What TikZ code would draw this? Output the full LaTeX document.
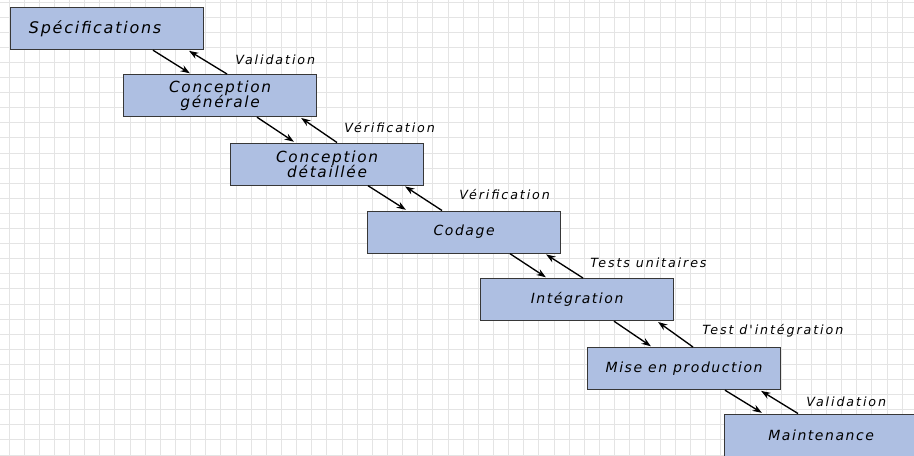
\documentclass[tikz,border=0pt]{standalone}
\usepackage{fontspec}
\newfontfamily\handfont{DejaVu Sans}[LetterSpace=11]
\newfontfamily\notefont{DejaVu Sans}[LetterSpace=15]
\usetikzlibrary{arrows.meta,calc}
\definecolor{boxblue}{RGB}{174,191,226}
\definecolor{boxline}{RGB}{55,55,55}
\definecolor{gridgray}{RGB}{228,228,228}
\tikzset{
  phase/.style={draw=boxline,fill=boxblue,line width=0.9pt,minimum width=144.75pt,minimum height=31.5pt,anchor=north west,inner sep=0pt,align=center,font=\handfont\itshape\fontsize{10.5}{12}\selectfont},
  bigphase/.style={phase,font=\handfont\itshape\fontsize{11.5}{12}\selectfont},
  flow/.style={line width=1pt,-{Stealth[length=7pt,width=5pt]},shorten >=1pt},
  remark/.style={anchor=west,inner sep=0.75pt,font=\notefont\itshape\fontsize{9.5}{10}\selectfont},
  gridline/.style={color=gridgray,line width=0.75pt},
}
\begin{document}
\begin{tikzpicture}[x=0.75pt,y=0.75pt,yscale=-1,xscale=1]
\useasboundingbox (0,0) rectangle (914,455);
\clip (0,0) rectangle (914,455);

%Shape: Grid
\foreach \i in {0,...,60} \draw[gridline] (9+15.14*\i,0) -- (9+15.14*\i,455);
\foreach \i in {0,...,30} \draw[gridline] (0,2+15.1*\i) -- (914,2+15.1*\i);

%Shape: Rectangle
\node[bigphase,font=\handfont\itshape\fontsize{12}{12}\selectfont] (spec) at (10,7) {Spécifications\hspace*{18pt}};
\node[bigphase] (gen) at (123,74) {Conception\\[-0.8pt]générale};
\node[bigphase] (det) at (230,142.5) {Conception\\[-0.8pt]détaillée};
\node[phase] (cod) at (367,210.5) {Codage};
\node[phase] (integ) at (480,278) {Intégration};
\node[phase] (mise) at (587,347) {Mise en production};
\node[phase] (maint) at (724,413.5) {Maintenance};

%Straight Lines
\foreach \src/\dst/\ds/\de/\us/\ue in {spec/gen/143/68/104/178,gen/det/134/65/107/177,det/cod/138/40/75/174,cod/integ/143/67/103/178,integ/mise/134/65/106/177,mise/maint/138/39/74/173}{
  \draw[flow] ($(\src.south west)+(\ds,0)$) -- ($(\dst.north west)+(\de,0)$);
  \draw[flow] ($(\dst.north west)+(\us,0)$) -- ($(\src.south west)+(\ue,0)$);
}

% Text Node
\node[remark] (val1) at (234,60) {Validation};
% Text Node
\node[remark] (ver1) at (343,128) {Vérification};
% Text Node
\node[remark] (ver2) at (458,195) {Vérification};
% Text Node
\node[remark] (tu) at (589,263) {Tests unitaires};
% Text Node
\node[remark] (ti) at (701,331) {Test d'intégration};
% Text Node
\node[remark] (val2) at (805,402) {Validation};

\end{tikzpicture}
\end{document}
